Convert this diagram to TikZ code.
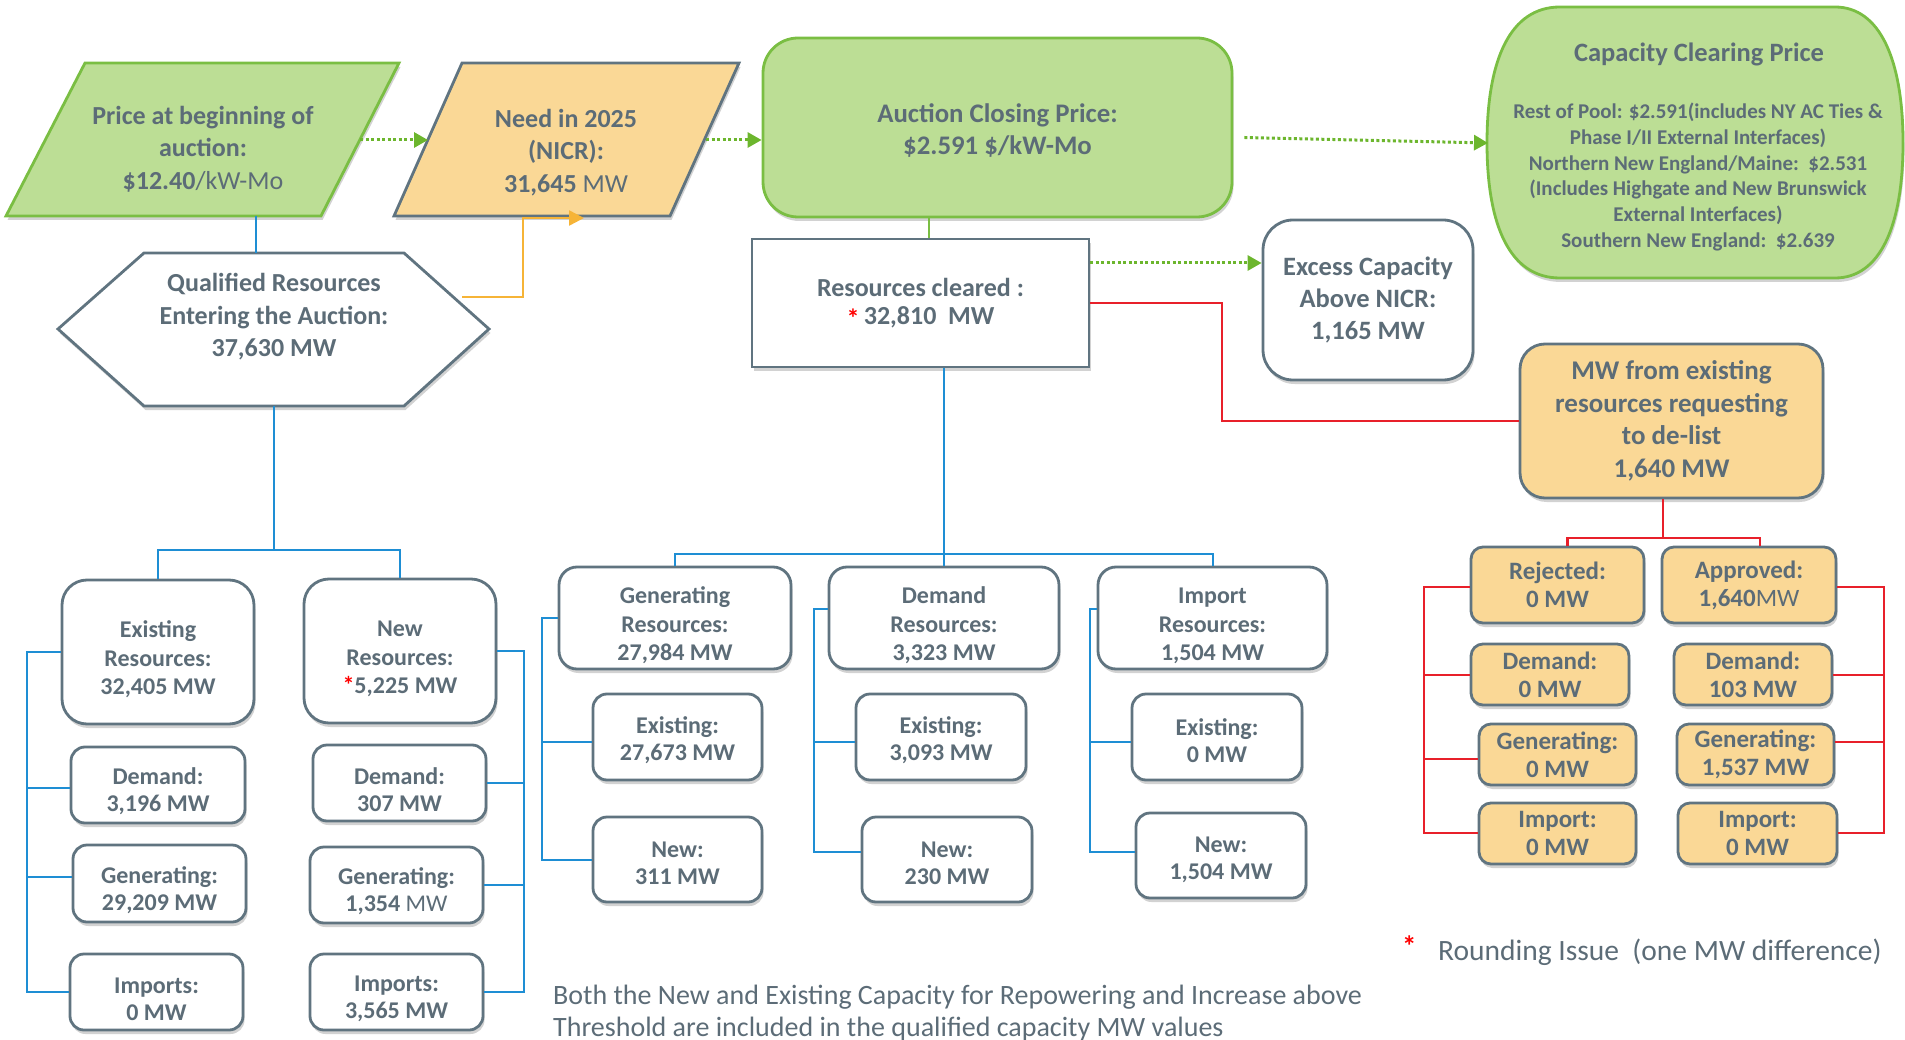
\documentclass[tikz,border=0pt]{standalone}
\usepackage{fontspec}
\setmainfont{Carlito}
\usetikzlibrary{arrows.meta,shadows}
\definecolor{txt}{RGB}{92,108,119}
\definecolor{bord}{RGB}{96,116,128}
\definecolor{gfill}{RGB}{188,222,149}
\definecolor{gbord}{RGB}{122,190,67}
\definecolor{ofill}{RGB}{250,216,150}
\definecolor{blu}{RGB}{30,142,212}
\definecolor{redl}{RGB}{232,32,42}
\definecolor{orl}{RGB}{246,180,55}
\definecolor{garr}{RGB}{108,182,45}
\newcommand\vup[1]{\rule{0pt}{#1pt}}
\tikzset{
  shad/.style={drop shadow={shadow xshift=1.5pt,shadow yshift=-4pt,opacity=0.25,fill=black!70}},
  rbox/.style={draw=bord,line width=2.8pt,fill=white,align=center,text=txt,inner sep=0pt,shad},
  sz/.style 2 args={minimum width=#1pt,minimum height=#2pt},
  lbl/.style={align=center,text=txt,inner sep=0pt},
  fA/.style={font=\fontsize{26}{32.5}\selectfont\bfseries},
  fB/.style={font=\fontsize{24}{28.5}\selectfont\bfseries},
  fC/.style={font=\fontsize{24}{27}\selectfont\bfseries},
  fD/.style={font=\fontsize{25}{28}\selectfont\bfseries},
  bl/.style={draw=blu,line width=2pt},
  rl/.style={draw=redl,line width=2pt},
  garrow/.style={draw=garr,line width=3pt,dash pattern=on 3pt off 2.5pt,-{Triangle[length=14pt,width=15pt]}},
}
\begin{document}
\begin{tikzpicture}[x=1pt,y=-1pt]
\useasboundingbox (0,0) rectangle (1905,1040);

% ---------- top row ----------
\path[draw=gbord,fill=gfill,line width=2.8pt,shad] (85,63)--(399,63)--(321,216)--(6,216)--cycle;
\node[lbl,fA] (price) at (203,149) {Price at beginning of\\auction:\\\$12.40{\mdseries/kW-Mo}};
\path[draw=bord,fill=ofill,line width=2.8pt,shad] (462,63)--(739,63)--(670,216)--(394,216)--cycle;
\node[lbl,fA] (need) at (566,152.5) {Need in 2025\\(NICR):\\31,645 {\mdseries MW}};
\path[draw=bord,fill=white,line width=2.8pt,shad] (144,253)--(404,253)--(489,329)--(404,406)--(144,406)--(58,329)--cycle;
\node[lbl,fA] (hex) at (274,317) {Qualified Resources\\Entering the Auction:\\37,630 MW};

\node[rbox,sz={469}{179},rounded corners=35pt,draw=gbord,fill=gfill,font=\fontsize{26.8}{32.5}\selectfont\bfseries] (auction) at (997.5,127.5) {\vup{25}Auction Closing Price:\\\$2.591 \$/kW-Mo};
\node[rbox,sz={337}{128},font=\fontsize{26}{28}\selectfont\bfseries] (rescl) at (920.5,303) {Resources cleared :\\{\color{red}\raisebox{-3pt}{*}}\,32,810~~MW};
\node[rbox,sz={210}{160},rounded corners=30pt,font=\fontsize{26.5}{32}\selectfont\bfseries] (excess) at (1368,300) {Excess Capacity\\Above NICR:\\1,165 MW};

\path[draw=gbord,fill=gfill,line width=2.8pt,shad] (1560,7) -- (1835,7) .. controls (1880,7) and (1903,60) .. (1903,143) .. controls (1903,226) and (1880,278) .. (1835,278) -- (1560,278) .. controls (1510,278) and (1487,226) .. (1487,143) .. controls (1487,60) and (1510,7) .. (1560,7) -- cycle;
\node[lbl,font=\fontsize{26.5}{32}\selectfont\bfseries] (captitle) at (1699,54) {Capacity Clearing Price};
\node[lbl,font=\fontsize{21}{25.8}\selectfont\bfseries] (capbody) at (1698,177) {Rest of Pool: \$2.591(includes NY AC Ties \&\\Phase I/II External Interfaces)\\Northern New England/Maine:~~\$2.531\\(Includes Highgate and New Brunswick\\External Interfaces)\\Southern New England:~~\$2.639};

\node[rbox,sz={303}{154},rounded corners=25pt,fill=ofill,font=\fontsize{27}{32.5}\selectfont\bfseries] (mwd) at (1671.5,421) {MW from existing\\resources requesting\\to de-list\\1,640 MW};

% ---------- de-list breakdown ----------
\begin{scope}[every node/.append style={rbox,fD,fill=ofill,rounded corners=12pt}]
\node[sz={173}{76}] (rej) at (1557.5,585) {Rejected:\\0 MW};
\node[sz={174}{76}] (appr) at (1749,585) {Approved:\\1,640{\mdseries MW}};
\node[sz={158}{61}] (rdem) at (1550,674.5) {Demand:\\0 MW};
\node[sz={158}{61}] (adem) at (1753,674.5) {Demand:\\103 MW};
\node[sz={157}{61}] (rgen) at (1557.5,754.5) {Generating:\\0 MW};
\node[sz={157}{61}] (agen) at (1755.5,754.5) {Generating:\\1,537 MW};
\node[sz={157}{61}] (rimp) at (1557.5,833.5) {Import:\\0 MW};
\node[sz={159}{61}] (aimp) at (1757.5,833.5) {Import:\\0 MW};
\end{scope}

% ---------- qualified breakdown ----------
\node[rbox,fB,sz={192}{144},rounded corners=25pt] (exist) at (158,652) {\vup{31.5}Existing\\Resources:\\32,405 MW};
\node[rbox,fB,sz={192}{144},rounded corners=25pt] (newr) at (400,651) {\vup{31.5}New\\Resources:\\{\color{red}*}5,225 MW};
\begin{scope}[every node/.append style={rbox,fC,rounded corners=14pt}]
\node[sz={174}{76}] (edem) at (158,785) {\vup{29.5}Demand:\\3,196 MW};
\node[sz={173}{77}] (egen) at (159.5,883.5) {\vup{29.5}Generating:\\29,209 MW};
\node[sz={173}{76}] (eimp) at (156.5,992) {\vup{29.5}Imports:\\0 MW};
\node[sz={173}{76}] (ndem) at (399.5,783) {\vup{29.5}Demand:\\307 MW};
\node[sz={173}{76}] (ngen) at (396.5,885) {\vup{29.5}Generating:\\1,354 {\mdseries MW}};
\node[sz={173}{76}] (nimp) at (396.5,992) {\vup{29.5}Imports:\\3,565 MW};
\end{scope}

% ---------- cleared breakdown ----------
\begin{scope}[every node/.append style={rbox,fB,rounded corners=18pt}]
\node[sz={232}{102}] (genr) at (675,618) {\vup{31.5}Generating\\Resources:\\27,984 MW};
\node[sz={230}{102}] (demr) at (944,618) {\vup{31.5}Demand\\Resources:\\3,323 MW};
\node[sz={229}{102}] (impr) at (1212.5,618) {\vup{31.5}Import\\Resources:\\1,504 MW};
\end{scope}
\begin{scope}[every node/.append style={rbox,fC,rounded corners=14pt}]
\node[sz={169}{86}] (gex) at (677.5,737) {\vup{23.5}Existing:\\27,673 MW};
\node[sz={169}{85}] (gnew) at (677.5,859.5) {\vup{23.5}New:\\311 MW};
\node[sz={170}{86}] (dex) at (941,737) {\vup{23.5}Existing:\\3,093 MW};
\node[sz={170}{85}] (dnew) at (947,859.5) {\vup{23.5}New:\\230 MW};
\node[sz={170}{86}] (iex) at (1217,737) {\vup{23.5}Existing:\\0 MW};
\node[sz={170}{85}] (inew) at (1221,855.5) {\vup{23.5}New:\\1,504 MW};
\end{scope}

% ---------- notes ----------
\node[anchor=west,align=left,text=txt,inner sep=0pt,font=\fontsize{28}{32}\selectfont] (note) at (553,1013) {Both the New and Existing Capacity for Repowering and Increase above\\Threshold are included in the qualified capacity MW values};
\node[anchor=west,inner sep=0pt,text=red,font=\fontsize{29}{32}\selectfont\bfseries] (star) at (1402,946) {*};
\node[anchor=west,inner sep=0pt,text=txt,font=\fontsize{29.5}{32}\selectfont] (round) at (1438,952) {Rounding Issue~~(one MW difference)};

% ---------- coordinates ----------
\coordinate (priceS) at (256,216);
\coordinate (hexN) at (256,253);
\coordinate (hexS) at (274,406);
\coordinate (jL) at (274,550);
\coordinate (hexR) at (462,297);
\coordinate (oc) at (523,218);
\coordinate (needA) at (584,218);
\coordinate (priceE) at (360,140);
\coordinate (needW) at (428,140);
\coordinate (needE) at (706,140);
\coordinate (capW) at (1488,143);
\coordinate (gx) at (929,0);
\coordinate (bLx) at (27,0);
\coordinate (bRx) at (524,0);
\coordinate (mbar) at (944,554);
\coordinate (gbx) at (542,0);
\coordinate (dbx) at (814,0);
\coordinate (ibx) at (1090,0);
\coordinate (rk) at (1222,303);
\coordinate (rbar) at (1663,538);
\coordinate (rLx) at (1424,0);
\coordinate (rRx) at (1884,0);
\coordinate (rcg) at ([yshift=40pt]rescl.east);

% ---------- connectors ----------
\draw[bl] (priceS) -- (hexN);
\draw[draw=orl,line width=2.5pt,-{Triangle[length=15pt,width=15pt]}] (hexR) -| (oc) -- (needA);
\draw[garrow] (priceE) -- (needW);
\draw[garrow] (needE) -- (auction.west |- needE);
\draw[garrow] ([xshift=11pt,yshift=-10pt]auction.east) -- (capW);
\draw[garrow] (rcg) -- (rcg -| excess.west);
\draw[draw=gbord,line width=2.5pt] (auction.south -| gx) -- (rescl.north -| gx);

% qualified tree
\draw[bl] (hexS) -- (jL);
\draw[bl] (exist.north) |- (jL) -| (newr.north);
\draw[bl] (exist.west) -- (exist.west -| bLx) |- (eimp.west);
\draw[bl] ([yshift=-3pt]edem.west -| bLx) -- ([yshift=-3pt]edem.west);
\draw[bl] ([yshift=7pt]egen.west -| bLx) -- ([yshift=7pt]egen.west);
\draw[bl] (newr.east) -- (newr.east -| bRx) |- (nimp.east);
\draw[bl] (ndem.east -| bRx) -- (ndem.east);
\draw[bl] (ngen.east -| bRx) -- (ngen.east);

% cleared tree
\draw[bl] (rescl.south -| demr.north) -- (demr.north);
\draw[bl] (genr.north) |- (mbar) -| (impr.north);
\draw[bl] (genr.west) -- (genr.west -| gbx) |- (gnew.west);
\draw[bl] ([yshift=-5pt]gex.west -| gbx) -- ([yshift=-5pt]gex.west);
\draw[bl] ([yshift=9pt]demr.west) -- ([yshift=9pt]demr.west -| dbx) |- ([yshift=8pt]dnew.west);
\draw[bl] ([yshift=-5pt]dex.west -| dbx) -- ([yshift=-5pt]dex.west);
\draw[bl] ([yshift=9pt]impr.west) -- ([yshift=9pt]impr.west -| ibx) |- ([yshift=4pt]inew.west);
\draw[bl] ([yshift=-5pt]iex.west -| ibx) -- ([yshift=-5pt]iex.west);

% de-list tree
\draw[rl] (rescl.east) -- (rk) |- (mwd.west);
\draw[rl,line width=2.5pt] (mwd.south -| rbar) -- (rbar);
\draw[rl,line width=2.5pt] ([xshift=10pt]rej.north) |- (rbar) -| ([xshift=11pt]appr.north);
\draw[rl] ([yshift=-2pt]rej.west) -- ([yshift=-2pt]rej.west -| rLx) |- ([yshift=1pt]rimp.west);
\draw[rl] (rdem.west -| rLx) -- (rdem.west);
\draw[rl] ([yshift=-4pt]rgen.west -| rLx) -- ([yshift=-4pt]rgen.west);
\draw[rl] ([yshift=-2pt]appr.east) -- ([yshift=-2pt]appr.east -| rRx) |- ([yshift=1pt]aimp.east);
\draw[rl] (adem.east -| rRx) -- (adem.east);
\draw[rl] ([yshift=13pt]agen.east -| rRx) -- ([yshift=13pt]agen.east);
\end{tikzpicture}
\end{document}
